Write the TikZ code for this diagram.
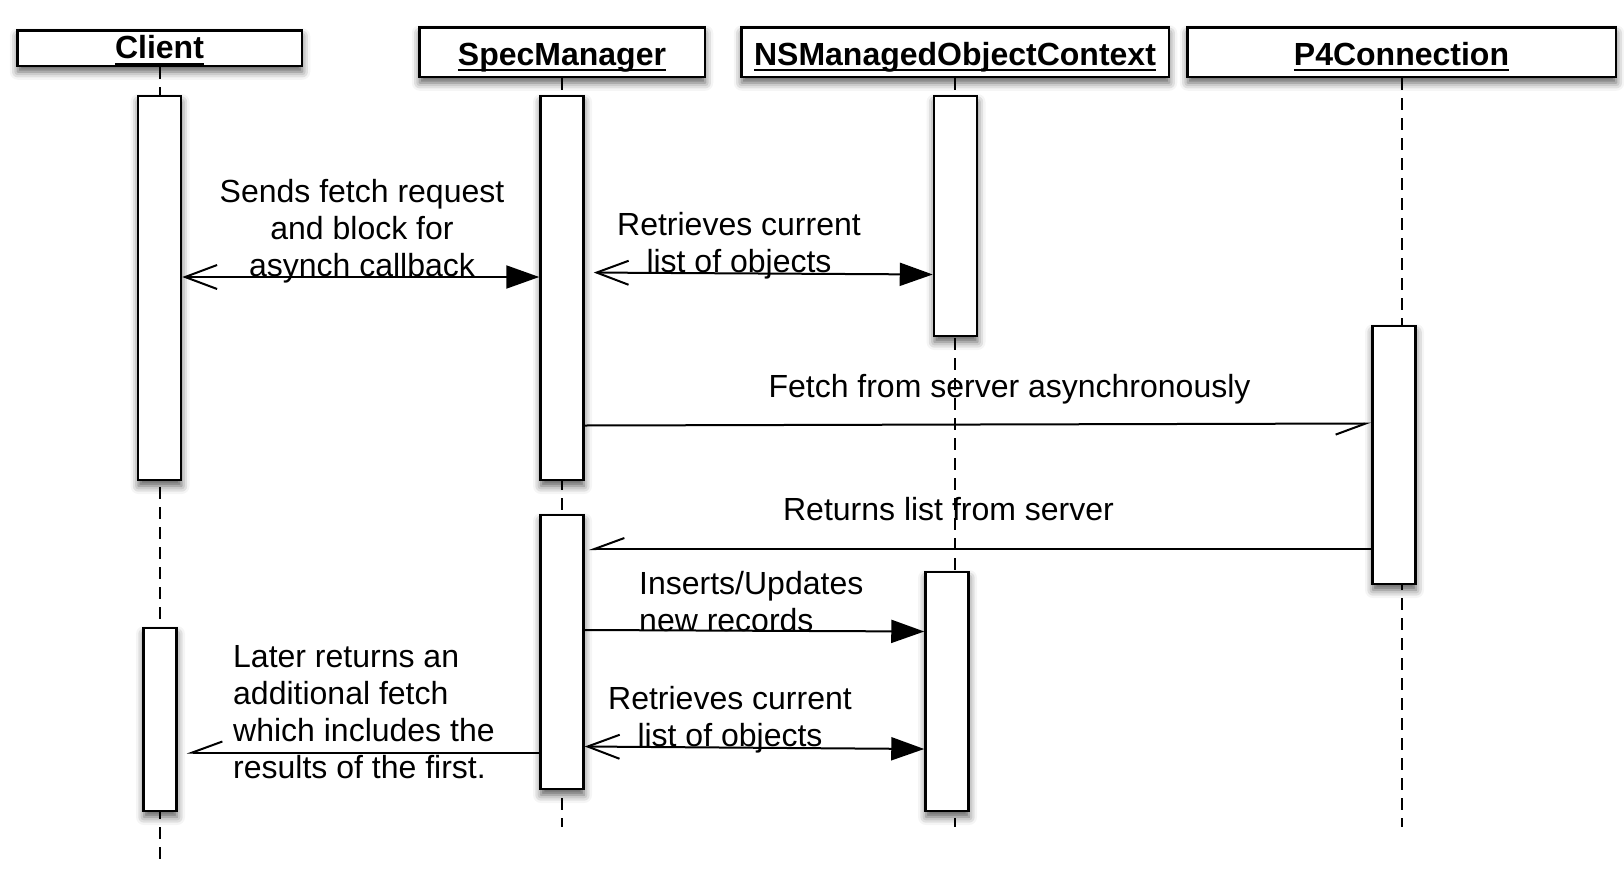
\documentclass[tikz,border=0pt]{standalone}
\usepackage{fontspec}
\setmainfont{Liberation Sans}
\usetikzlibrary{arrows.meta,shadows.blur}

% underlined head label, line just under the baseline
\newcommand{\hdline}[1]{\setbox0=\hbox{#1}\rlap{\copy0}\rule[-6pt]{\wd0}{2pt}}

\tikzset{
	soft shadow/.style={blur shadow={shadow xshift=0.5pt, shadow yshift=-6pt, shadow blur radius=8pt, shadow opacity=65}},
	obj/.style={draw, fill=white, line width=2.5pt, inner sep=0pt, minimum height=49.5pt,
		text height=26pt, text depth=0pt, font=\fontsize{32}{38}\selectfont\bfseries, soft shadow},
	act/.style={draw, fill=white, line width=2.5pt, inner sep=0pt, minimum width=43pt, soft shadow},
	life/.style={line width=2pt, dash pattern=on 12pt off 8pt},
	msg/.style={line width=2pt},
	txt/.style={font=\fontsize{32}{37}\selectfont, inner sep=0pt},
	call/.style={msg, -{Triangle[length=33pt, width=23pt]}},
	both/.style={msg, {Straight Barb[length=32pt, width=24pt]}-{Triangle[length=33pt, width=23pt]}},
	async/.style={msg, -{Straight Barb[right, length=30pt, width=22pt]}}
}

\begin{document}
\begin{tikzpicture}[x=1pt, y=-1pt]
	\useasboundingbox (0,0) rectangle (1624,886);

	% heads
	\node[obj, minimum width=284.5pt, minimum height=35.5pt, text height=21pt] (client) at (159.5,48) {\hdline{Client}};
	\node[obj, minimum width=285.5pt] (spec) at (562,52) {\hdline{SpecManager}};
	\node[obj, minimum width=427.5pt] (moc) at (955,52) {\hdline{NSManagedObjectContext}};
	\node[obj, minimum width=428.5pt] (conn) at (1401.5,52) {\hdline{P4Connection}};

	% lifelines
	\draw[life] (client.south) -- (client.south |- 0,865);
	\draw[life] (spec.south) -- (spec.south |- 0,827);
	\draw[life] (moc.south) -- (moc.south |- 0,827);
	\draw[life] (conn.south) -- (conn.south |- 0,827);

	% activations
	\node[act, minimum height=384pt] (cl1) at (159.5,288) {};
	\node[act, minimum height=384pt] (sm1) at (562,288) {};
	\node[act, minimum height=240pt] (mc1) at (955.5,216) {};
	\node[act, minimum height=258pt] (p4) at (1394,455) {};
	\node[act, minimum height=274pt] (sm2) at (562,652) {};
	\node[act, minimum height=239pt] (mc2) at (947,691.5) {};
	\node[act, minimum width=33pt, minimum height=183pt] (cl2) at (160,719.5) {};

	% messages
	\draw[both] (cl1.east |- 0,277) -- (sm1.west |- 0,277);
	\node[txt, align=center] (t1) at (362,231) {Sends fetch request\\and block for\\asynch callback};

	\draw[both, shorten <=9pt] (sm1.east |- 0,272.5) -- (mc1.west |- 0,274.5);
	\node[txt, align=center] (t2) at (739,246) {Retrieves current\\list of objects};

	\draw[async] (sm1.east |- 0,425.5) -- (p4.west |- 0,423.5);
	\node[txt] (t3) at (1009.5,389) {Fetch from server asynchronously};

	\draw[async, shorten >=4pt] (p4.west |- 0,549) -- (sm2.east |- 0,549);
	\node[txt] (t4) at (948.5,509.5) {Returns list from server};

	\draw[call] (sm2.east |- 0,630) -- (mc2.west |- 0,631.5);
	\node[txt, align=left, anchor=west] (t5) at (639,602) {Inserts/Updates\\new records};

	\draw[both] (sm2.east |- 0,746.5) -- (mc2.west |- 0,749);
	\node[txt, align=center] (t6) at (730,720) {Retrieves current\\list of objects};

	\draw[async, shorten >=9pt] (sm2.west |- 0,752.5) -- (cl2.east |- 0,752.5);
	\node[txt, align=left, anchor=west] (t7) at (233,712) {Later returns an\\additional fetch\\which includes the\\results of the first.};
\end{tikzpicture}
\end{document}
